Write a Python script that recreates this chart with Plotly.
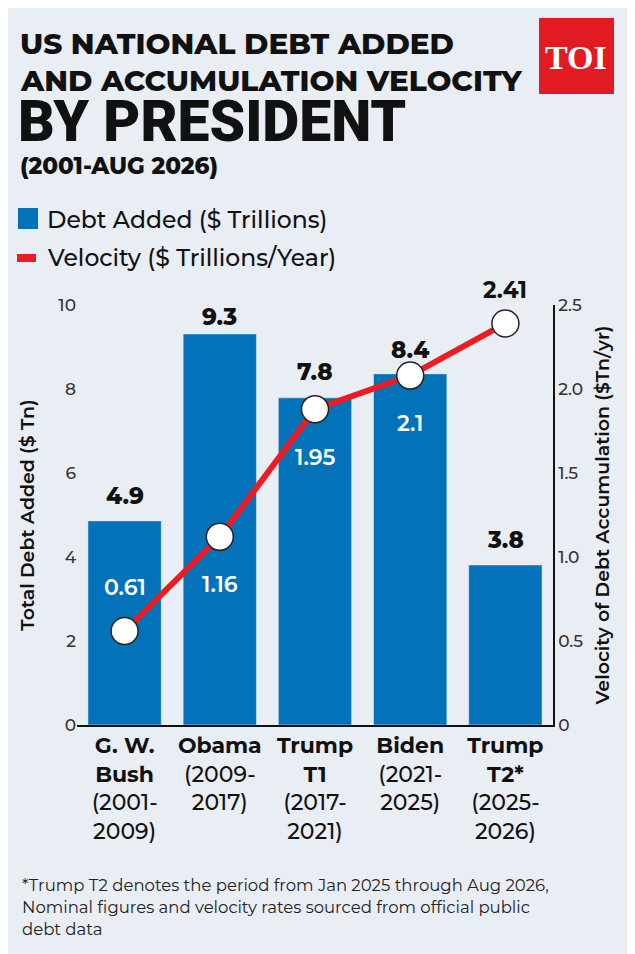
import plotly.graph_objects as go

presidents = ["<b>G. W.<br>Bush</b><br>(2001-<br>2009)", "<b>Obama</b><br>(2009-<br>2017)",
              "<b>Trump<br>T1</b><br>(2017-<br>2021)", "<b>Biden</b><br>(2021-<br>2025)",
              "<b>Trump<br>T2*</b><br>(2025-<br>2026)"]
debt_added = [4.86, 9.31, 7.79, 8.36, 3.81]
debt_labels = ["4.9", "9.3", "7.8", "8.4", "3.8"]
velocity = [0.56, 1.12, 1.88, 2.08, 2.39]
velocity_labels = ["0.61", "1.16", "1.95", "2.1", "2.41"]

font = "Montserrat, Roboto, sans-serif"
bg = "#e9edf4"

# page has an 8px body margin, so figure coords = screen coords - 8
L, R, T, B = 69, 90, 297, 237
W, H = 635, 954
PW, PH = W - L - R, H - T - B


def px(x, y):
    return (x - 8 - L) / PW, (H - B - (y - 8)) / PH


fig = go.Figure()
fig.add_trace(go.Bar(x=presidents, y=debt_added, name="Debt Added ($ Trillions)",
                     marker_color="#0472b9", width=0.77))
fig.add_trace(go.Scatter(x=presidents, y=velocity, yaxis="y2", name="Velocity ($ Trillions/Year)",
                         mode="lines+markers", line=dict(color="#ec1c24", width=6),
                         marker=dict(size=27, color="white", line=dict(color="#222", width=1.5)),
                         cliponaxis=False))

label_shift = [25, 17, 26, 24, 25]
for i, (v, t) in enumerate(zip(debt_added, debt_labels)):
    fig.add_annotation(x=presidents[i], y=v, text=t, showarrow=False, yshift=label_shift[i],
                       font=dict(size=23, color="#111", family=font, weight=800))

for i, (v, t) in enumerate(zip(velocity, velocity_labels)):
    if i == 4:
        fig.add_annotation(x=presidents[i], y=v, yref="y2", text=t, showarrow=False, yshift=33,
                           font=dict(size=23, color="#111", family=font, weight=700))
    else:
        fig.add_annotation(x=presidents[i], y=v, yref="y2", text=t, showarrow=False,
                           yshift=-48 if i != 0 else 43,
                           font=dict(size=22, color="white", family=font, weight=600))

fig.update_layout(
    width=W, height=H, paper_bgcolor=bg, plot_bgcolor=bg,
    margin=dict(l=L, r=R, t=T, b=B),
    font=dict(family=font, color="#111"),
    bargap=0.23, showlegend=False,
    xaxis=dict(tickfont=dict(size=22, color="#111", weight=500), showline=True, linecolor="#111",
               linewidth=1.5, ticks=""),
    yaxis=dict(range=[0, 10], tickvals=[0, 2, 4, 6, 8, 10], showgrid=False, zeroline=False,
               tickfont=dict(size=17, color="#333", weight=500),
               title=dict(text="Total Debt Added ($ Tn)", font=dict(size=19, weight=600), standoff=18)),
    yaxis2=dict(range=[0, 2.5], overlaying="y", side="right", showgrid=False,
                tickvals=[0, 0.5, 1, 1.5, 2, 2.5], ticktext=["0", "0.5", "1.0", "1.5", "2.0", "2.5"],
                showline=True, linecolor="#111", linewidth=1.5,
                tickfont=dict(size=17, color="#333", weight=500), zeroline=False,
                title=dict(text="Velocity of Debt Accumulation ($Tn/yr)", font=dict(size=19, weight=600),
                           standoff=14)),
)


def text_at(x, y, text, size, weight=500, color="#111", fam=font, anchor="left"):
    ax, ay = px(x, y)
    fig.add_annotation(xref="x domain", yref="y domain", x=ax, y=ay, text=text, showarrow=False,
                       xanchor=anchor, yanchor="middle", align="left",
                       font=dict(size=size, family=fam, weight=weight, color=color))


# title
text_at(18, 43, "US NATIONAL DEBT ADDED", 29.5, 800)
text_at(18, 80, "AND ACCUMULATION VELOCITY", 29.5, 800)
text_at(16, 121, "BY PRESIDENT", 57, 900, fam="Roboto")
text_at(18, 166, "(2001-AUG 2026)", 23, 800)

# legend
x0, y0 = px(18, 208)
x1, y1 = px(38, 229)
fig.add_shape(type="rect", xref="x domain", yref="y domain", x0=x0, x1=x1, y0=y1, y1=y0,
              fillcolor="#0472b9", line_width=0)
text_at(45, 219, "Debt Added ($ Trillions)", 23.5)
x0, y0 = px(17, 258)
x1, _ = px(36, 258)
fig.add_shape(type="line", xref="x domain", yref="y domain", x0=x0, x1=x1, y0=y0, y1=y0,
              line=dict(color="#ec1c24", width=8))
text_at(45, 258, "Velocity ($ Trillions/Year)", 23.5)

# logo
x0, y0 = px(540, 93)
x1, y1 = px(613, 19)
fig.add_shape(type="rect", xref="x domain", yref="y domain", x0=x0, x1=x1, y0=y0, y1=y1,
              fillcolor="#e21b22", line=dict(color="#e21b22", width=2))
text_at(576, 57, "TOI", 34, 700, color="white", fam="Liberation Serif", anchor="center")

# footnote
text_at(20, 885, "*Trump T2 denotes the period from Jan 2025 through Aug 2026,", 16.5, 400, "#222")
text_at(20, 907, "Nominal figures and velocity rates sourced from official public", 16.5, 400, "#222")
text_at(20, 929, "debt data", 16.5, 400, "#222")

fig.write_html("out.html")
